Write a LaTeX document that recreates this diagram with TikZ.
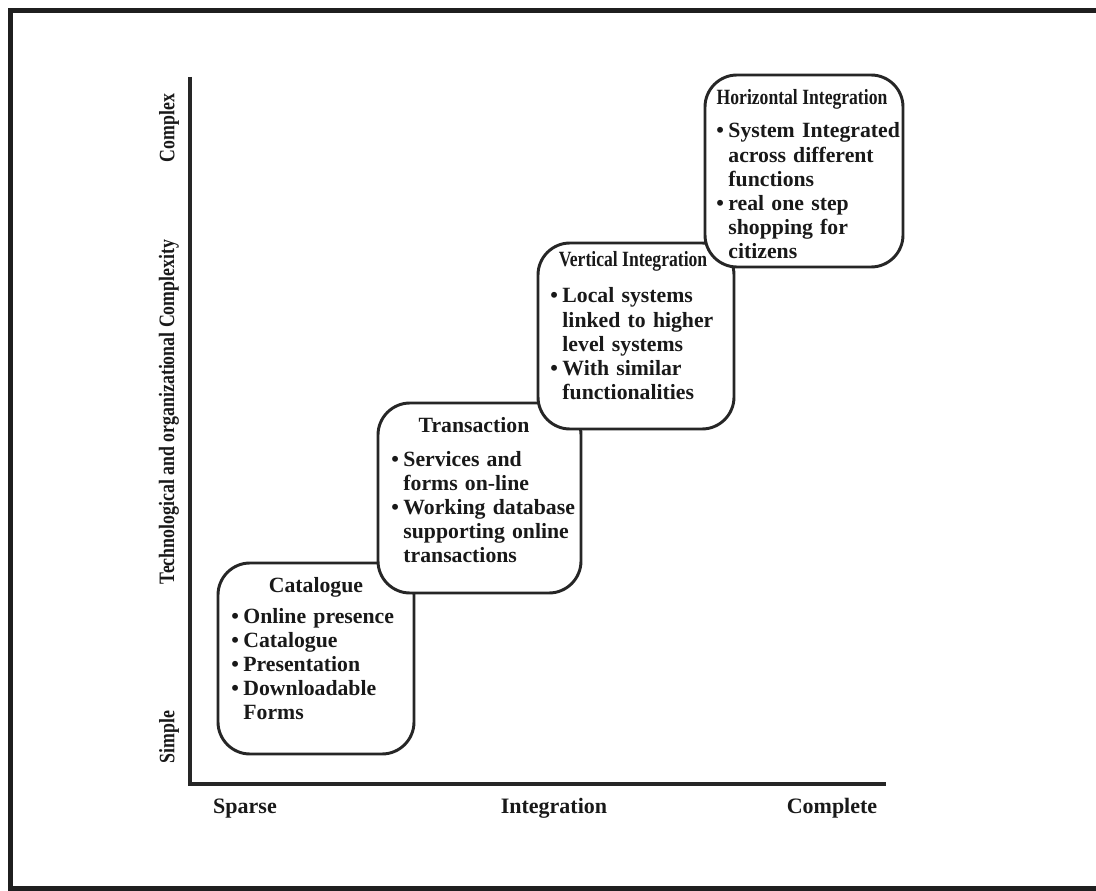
\documentclass[tikz,border=0pt]{standalone}
\usepackage{fontspec}
\setmainfont[WordSpace=0.85]{Liberation Serif}
\newfontfamily\condfont[FakeStretch=0.81]{Liberation Serif}
\newcommand\bodyfont{\bfseries\fontsize{16.3}{18.15}\selectfont}
\newcommand\condbody{\condfont\bfseries\fontsize{16.3}{18.15}\selectfont}
\newcommand\axfont{\bfseries\fontsize{16.5}{20}\selectfont}
\newcommand\vfont{\condfont\bfseries\fontsize{16.5}{20}\selectfont}
\newcommand\bul{\makebox[0.56em][l]{•}}
\newcommand\hng{\hspace*{0.56em}}
\begin{document}
\begin{tikzpicture}[x=0.75pt,y=-0.75pt,
  every node/.style={text=black!90},
  stage/.style={draw=black!85, line width=2.2pt, rounded corners=24pt, fill=white, inner sep=0pt},
  ttl/.style={anchor=base, inner sep=0pt, font=\bodyfont},
  ctl/.style={anchor=base, inner sep=0pt, font=\condbody},
  body/.style={anchor=base west, inner sep=0pt, align=left, text width=200pt, font=\bodyfont},
  axis/.style={line width=2.4pt, draw=black!85, line join=miter},
  axlab/.style={anchor=base, inner sep=0pt, font=\axfont},
  vlab/.style={rotate=90, inner sep=0pt, font=\vfont}]
\useasboundingbox (0,0) rectangle (1096,891);
\clip (0,0) rectangle (1096,891);
\fill[white] (0,0) rectangle (1096,891);
% outer frame
\draw[line width=3.75pt, black!88] (10.5,10.5) rectangle (1120,888.5);

% axes
\coordinate (ytop) at (190,77);
\coordinate (orig) at (190,784);
\coordinate (xend) at (886,784);
\draw[axis] (ytop) -- (orig) -- (xend);

% axis labels
\node[axlab] (sparse) at (245,813) {Sparse};
\node[axlab] (integ) at (554,813) {Integration};
\node[axlab] (compl) at (832,813) {Complete};
\node[vlab] (complex) at (169,128) {Complex};
\node[vlab] (ylab) at (169,412) {Technological and organizational Complexity};
\node[vlab] (simple) at (169,737) {Simple};

% Catalogue
\node[stage, minimum width=147pt, minimum height=143.25pt] (cat) at (316,658.5) {};
\node[ttl] (catt) at (316,592) {Catalogue};
\node[body] (catb) at (231,623) {\bul Online presence\\\bul Catalogue\\\bul Presentation\\\bul Downloadable\\\hng Forms};

% Transaction
\node[stage, minimum width=152.25pt, minimum height=142.5pt] (tra) at (479.5,498) {};
\node[ttl] (trat) at (474,432) {Transaction};
\node[body] (trab) at (391,466) {\bul Services and\\\hng forms on-line\\\bul Working database\\\hng supporting online\\\hng transactions};

% Vertical Integration
\node[stage, minimum width=147pt, minimum height=139.5pt] (ver) at (636,336) {};
\node[ctl] (vert) at (633,267) {Vertical Integration};
\node[body] (verb) at (550,303) {\bul Local systems\\\hng linked to higher\\\hng level systems\\\bul With similar\\\hng functionalities};

% Horizontal Integration
\node[stage, minimum width=148.5pt, minimum height=144pt] (hor) at (804,171) {};
\node[ctl] (hort) at (802,105) {Horizontal Integration};
\node[body] (horb) at (716,138) {\bul System Integrated\\\hng across different\\\hng functions\\\bul real one step\\\hng shopping for\\\hng citizens};
\end{tikzpicture}
\end{document}
